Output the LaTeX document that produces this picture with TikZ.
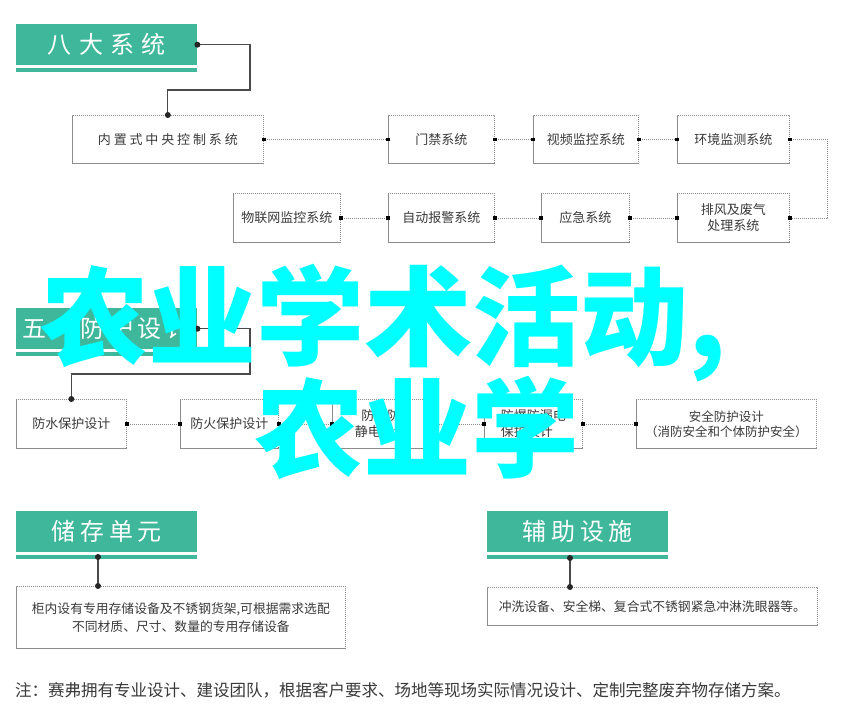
\documentclass[tikz,border=0pt]{standalone}
\usepackage{fontspec}
\setmainfont{Noto Sans CJK SC}
\newfontfamily\hdrfont[LetterSpace=20]{Noto Sans CJK SC}
\usepackage{tikz}
\usetikzlibrary{calc,positioning,arrows.meta}
\definecolor{hdrgreen}{HTML}{3FB79B}
\definecolor{boxline}{HTML}{8C8C8C}
\definecolor{txtgray}{HTML}{3A3A3A}
\definecolor{wire}{HTML}{4A4A4A}
\definecolor{wmcyan}{RGB}{0,255,255}

\begin{document}
\begin{tikzpicture}[x=1pt,y=-1pt,
    hdr/.style={fill=hdrgreen,text=white,font=\hdrfont\fontsize{24}{24}\selectfont,
        minimum width=181,minimum height=41,anchor=north west,inner sep=0},
    sysbox/.style={draw=boxline,line width=0.7pt,dash pattern=on 1.2pt off 0.8pt,
        text=txtgray,font=\fontsize{13}{16}\selectfont,align=center,
        anchor=north west,inner sep=0,minimum height=48},
    link/.style={draw=boxline,line width=0.7pt,dash pattern=on 1.2pt off 0.8pt,
        {Square[length=3.5pt,width=3.5pt,color=black]}-{Square[length=3.5pt,width=3.5pt,color=black]},
        shorten <=-1.75pt,shorten >=-1.75pt},
    feed/.style={draw=wire,line width=1.1pt},
    pin/.style={fill=black!85},
    wm/.style={text=wmcyan,font=\bfseries\fontsize{108}{108}\selectfont,inner sep=0,anchor=base west}]
        \fill[white] (0,0) rectangle (846,721);
        \useasboundingbox (0,0) rectangle (846,721);
        % headers
        \node[hdr] (h1) at (16,24) {\addfontfeature{LetterSpace=30}八大系统};
        \node[hdr] (h2) at (16,308) {五大防护设计};
        \node[hdr] (h3) at (16,511) {储存单元};
        \node[hdr] (h4) at (487,511) {辅助设施};
        \foreach \h in {h1,h2,h3,h4}
            \fill[hdrgreen] ($(\h.south west)+(0,3)$) rectangle ($(\h.south east)+(0,7)$);
        % eight systems
        \node[sysbox,minimum width=191] (ctrl) at (72,115) {\addfontfeature{LetterSpace=22}内置式中央控制系统};
        \node[sysbox,minimum width=106] (door) at (388,115) {门禁系统};
        \node[sysbox,minimum width=105] (video) at (533,115) {视频监控系统};
        \node[sysbox,minimum width=112] (env) at (677,115) {环境监测系统};
        \node[sysbox,minimum width=112,minimum height=49] (exh) at (677,193) {排风及废气\\处理系统};
        \node[sysbox,minimum width=88,minimum height=49] (emer) at (541,193) {应急系统};
        \node[sysbox,minimum width=106,minimum height=49] (alarm) at (388,193) {自动报警系统};
        \node[sysbox,minimum width=107,minimum height=49] (iot) at (233,193) {物联网监控系统};
        % five protections
        \node[sysbox,minimum width=110,minimum height=49] (water) at (16,399) {防水保护设计};
        \node[sysbox,minimum width=98,minimum height=49] (fire) at (180,399) {防火保护设计};
        \node[sysbox,minimum width=97,minimum height=49] (light) at (332,399) {防雷防\\静电设计};
        \node[sysbox,minimum width=98,minimum height=49,align=left] (blast) at (484,399) {防爆防漏电\\保护设计};
        \node[sysbox,minimum width=180,minimum height=49,font=\fontsize{12.5}{15}\selectfont] (safe) at (636,399) {安全防护设计\\（消防安全和个体防护安全）};
        % storage and aux
        \node[sysbox,minimum width=329,minimum height=62,font=\fontsize{12.8}{18}\selectfont] (store) at (16,586)
            {柜内设有专用存储设备及不锈钢货架,可根据需求选配\\不同材质、尺寸、数量的专用存储设备};
        \node[sysbox,minimum width=330,minimum height=38,font=\fontsize{12.8}{16}\selectfont] (aux) at (487,587)
            {冲洗设备、安全梯、复合式不锈钢紧急冲淋洗眼器等。};
        \node[text=txtgray,font=\fontsize{16.5}{16.5}\selectfont,anchor=west,inner sep=0] (note) at (15,690)
            {注：赛弗拥有专业设计、建设团队，根据客户要求、场地等现场实际情况设计、定制完整废弃物存储方案。};
        % connectors
        \foreach \a/\b in {ctrl/door,door/video,video/env,iot/alarm,alarm/emer,emer/exh,
                water/fire,fire/light,light/blast,blast/safe}
            \draw[link] (\a.east) -- (\b.west);
        \draw[link] (env.east) -- ++(38,0) |- (exh.east);
        \draw[feed] (h1.east) -| (250,90) -| (ctrl.north);
        \draw[feed] (h2.east) -| (250,374) -| (water.north);
        \coordinate (h3pin) at (98,557);
        \coordinate (h4pin) at (570,558);
        \draw[feed] (h3pin) -- (h3pin |- store.north);
        \draw[feed] (h4pin) -- (h4pin |- aux.north);
        \fill[pin] (h1.east) circle (3pt) (ctrl.north) circle (3pt)
            (h2.east) circle (3pt) (water.north) circle (3pt)
            (h3pin) circle (3pt) (h3pin |- store.north) circle (3pt)
            (h4pin) circle (3pt) (h4pin |- aux.north) circle (3pt);
        % overlay text
        \node[wm] (wm1) at (40,357) {农业学术活动,};
        \node[wm] (wm2) at (255,469) {农业学};
\end{tikzpicture}
\end{document}
